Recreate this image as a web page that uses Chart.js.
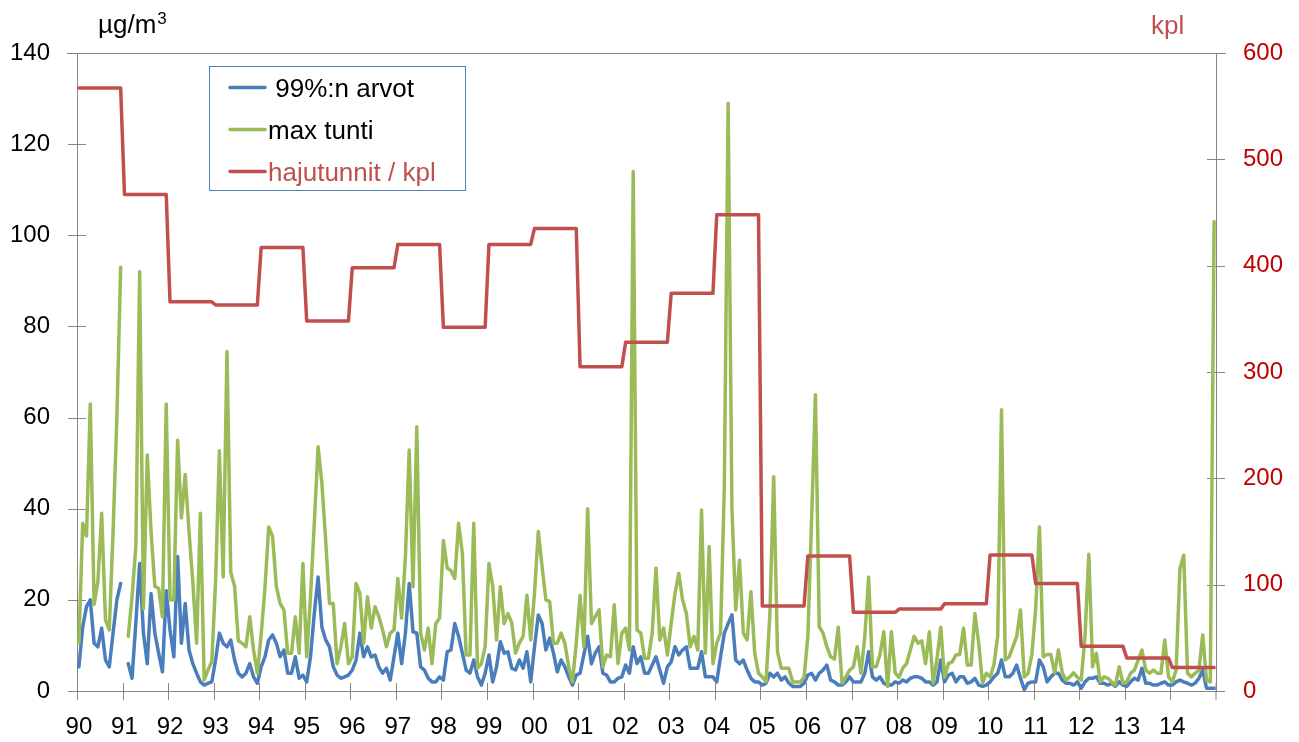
<!DOCTYPE html>
<html>
<head>
<meta charset="utf-8">
<script src="https://cdn.jsdelivr.net/npm/chart.js@4/dist/chart.umd.min.js"></script>
<style>
  html, body { margin: 0; padding: 0; background: #fff; }
  #wrap { width: 1299px; height: 742px; position: relative; }
</style>
</head>
<body>
<div id="wrap"><canvas id="chart"></canvas></div>
<script>
// year tick labels, one per year 1990..2014
const yearLabels = ["90","91","92","93","94","95","96","97","98","99","00","01","02","03","04","05","06","07","08","09","10","11","12","13","14"];

// monthly 99% values (ug/m3), Jan 1990 .. Dec 2014
const p99 = [
  5.3, 14, 18.5, 20, 10.5, 9.7, 13.8, 6.8, 5.3, 12.7, 20, 23.6,
  null, 6, 2.8, 15, 28, 12.7, 6, 21.4, 12.7, 8.3, 4.2, 22,
  13.4, 7.5, 29.5, 10.5, 19.2, 9, 6, 3.9, 2, 1.3, 1.7, 2,
  6.8, 12.7, 10.5, 9.7, 11.2, 6.8, 3.9, 3.1, 3.9, 6, 3.1, 1.7,
  5.3, 7.5, 11.2, 12.3, 10.5, 7.5, 9, 3.9, 3.9, 7.5, 2.8, 3.5,
  2, 7.5, 17, 25, 14, 11.2, 9.7, 5.3, 3.5, 2.8, 3.1, 3.5,
  4.6, 6.8, 12.7, 7.5, 9.7, 7.5, 7.9, 5.3, 3.9, 5, 2.4, 7.5,
  12.7, 6, 12.7, 23.6, 13, 12.7, 5.3, 4.6, 2.8, 2, 2, 3.1,
  2.4, 8.6, 9, 14.8, 12, 8.3, 4.6, 3.9, 6.8, 3.1, 1.3, 3.9,
  7.9, 2, 5.3, 10.8, 8.3, 8.6, 5, 4.6, 6.8, 5, 8.6, 2,
  9.7, 16.7, 14.8, 9, 11.6, 8.3, 4.2, 6.8, 5.3, 3.1, 1.3, 3.5,
  3.9, 8, 12, 6, 8.3, 9.7, 3.9, 3.5, 2, 2, 2.8, 3.1,
  5.7, 3.9, 9.7, 6, 7.5, 3.9, 3.9, 5.7, 7.5, 4.6, 1.7, 5.3,
  6.4, 9.7, 7.9, 9, 9.7, 5, 5, 5, 8.6, 3.1, 3.1, 3.1,
  2, 7.5, 12.7, 14.8, 16.7, 6.8, 6, 6.8, 4.6, 2.8, 2, 2,
  1.3, 1.7, 3.9, 3.1, 3.9, 2.4, 3.1, 1.7, 1, 1, 1, 1.7,
  3.5, 3.9, 2.4, 3.9, 4.6, 5.7, 2.4, 2, 1.3, 1.3, 2, 3.1,
  2, 2, 2, 3.9, 8.6, 3.1, 2.4, 3.1, 1.7, 1.3, 1.3, 2,
  1.7, 2.4, 2, 2.8, 3.1, 3.1, 2.8, 2, 2, 1.3, 2, 6.8,
  2, 3.5, 3.9, 2, 3.1, 3.1, 1.7, 2, 2.8, 1.3, 1, 1.3,
  2, 3.1, 3.9, 6.8, 3.1, 3.1, 3.9, 5.7, 2.8, 0.3, 1.7, 2,
  2, 6.8, 5.3, 2, 3.1, 3.9, 3.9, 2.4, 1.7, 1.7, 1.3, 2,
  0.6, 2, 2.8, 2.8, 3.1, 1.7, 1.7, 1.3, 1.7, 1, 2, 1.3,
  1, 2, 2.8, 2.4, 5, 1.7, 1.7, 1.3, 1.3, 1.7, 2, 1.3,
  1.3, 2, 2.4, 2, 1.7, 1.3, 1.7, 2.8, 4.6, 0.6, 0.6, 0.6
];

// monthly max hourly values (ug/m3)
const maxHour = [
  10.5, 36.8, 34, 63, 19, 24, 39, 15.6, 13.4, 35, 60, 93,
  null, 12, 20.7, 31.7, 92, 18, 51.8, 35, 23, 22.5, 16.3, 63,
  20, 20, 55, 38, 47.5, 35, 24, 10.5, 39, 2.4, 4.6, 6.4,
  24, 52.7, 25, 74.5, 26, 23, 11, 10.5, 9.7, 16.3, 9, 3.9,
  12.3, 22.5, 36, 34, 23, 19.2, 17.8, 8.3, 8.3, 16.3, 8.3, 28,
  7.5, 20.7, 36.8, 53.6, 45.6, 33, 19.2, 19.2, 6, 9.7, 14.8, 6,
  7.5, 23.6, 21.4, 10.5, 20.7, 13.8, 18.5, 16.3, 13.4, 9.7, 12.7, 13.4,
  24.7, 16, 29.5, 52.9, 22.9, 58, 12.7, 9, 13.8, 6, 14.8, 16,
  33, 27, 26.4, 24.7, 36.8, 30.2, 7.9, 7.9, 36.8, 5, 6, 9.7,
  28, 22.9, 11.2, 22.9, 14.8, 17, 15, 8.3, 10.5, 12, 21, 11.2,
  21.4, 35, 27.3, 20, 19.6, 10.5, 10.5, 12.7, 10.5, 5.3, 2, 10.5,
  21, 9.7, 40, 14.8, 16.3, 17.8, 5.3, 7.9, 7.5, 18.9, 6, 12.7,
  13.8, 9, 114, 13.4, 12.7, 7.2, 7.2, 12.7, 27, 11.2, 13.8, 7.9,
  14.8, 21.4, 25.8, 20, 17, 9.7, 12, 9, 39.7, 8.3, 31.7, 6,
  10.5, 12.7, 45, 129, 40, 17.8, 28.7, 12.7, 11.2, 21.8, 8.3, 3.9,
  3.1, 2, 17, 47, 8.6, 5, 5, 5, 2, 2, 2, 3,
  12, 38, 65, 14.1, 12.7, 9.7, 7.5, 7, 14, 1.7, 3.1, 4.6,
  5.3, 9.7, 3.9, 12, 25, 5.3, 5.3, 8, 13, 1, 13, 4,
  3, 5, 6, 9, 12, 10.5, 11, 6, 13, 1.7, 7, 14,
  3, 6, 6.4, 7.9, 8, 13.8, 5.7, 5.7, 17, 10.5, 1.7, 3.9,
  3.1, 5.7, 12, 61.7, 6.8, 7.5, 9.7, 12, 17.8, 3.1, 3.9, 8,
  18, 36, 7.5, 8, 8, 4, 9, 4, 2.4, 3.1, 4, 3,
  2.4, 12, 30, 5.3, 8.3, 2, 3.1, 2.8, 2, 1.3, 5.3, 1.7,
  2, 3.9, 4.6, 6.8, 9, 4.6, 3.9, 4.6, 3.9, 3.9, 11.2, 3.1,
  2, 4.6, 26.9, 29.8, 3.9, 3.1, 3.9, 4.6, 12.3, 2.4, 2, 103
];

// odour hours per year (kpl), one value per year
const odourHours = [567, 467, 366, 363, 417, 348, 398, 420, 342, 420, 435, 305, 328, 374, 448, 80, 127, 74, 77, 82, 128, 101, 42, 31, 22];

const BLUE = "#4A7EBB", GREEN = "#9BBB59", RED = "#C0504D", AXIS = "#868686";
const FONT = "'Liberation Sans', Arial, sans-serif";
const LW = 3.5;

// one category per month
const monthLabels = [];
const odourMonthly = [];
yearLabels.forEach((y, k) => {
  for (let m = 0; m < 12; m++) {
    monthLabels.push(y + "-" + (m + 1));
    odourMonthly.push(odourHours[k]);
  }
});

const legendItems = [
  { text: " 99%:n arvot", color: BLUE, textColor: "#000" },
  { text: "max tunti", color: GREEN, textColor: "#000" },
  { text: "hajutunnit / kpl", color: RED, textColor: RED },
];

const decor = {
  id: "decor",
  beforeDatasetsDraw(chart) {
    const { ctx, chartArea: a, scales } = chart;
    ctx.save();
    ctx.strokeStyle = AXIS;
    ctx.lineWidth = 1;
    ctx.beginPath();
    ctx.moveTo(a.left - 10, Math.round(a.top) + 0.5);
    ctx.lineTo(a.right + 10, Math.round(a.top) + 0.5);
    scales.y.ticks.forEach((t, i) => {
      const py = Math.round(scales.y.getPixelForTick(i)) + 0.5;
      ctx.moveTo(a.left - 9, py); ctx.lineTo(a.left + 9, py);
    });
    scales.y2.ticks.forEach((t, i) => {
      const py = Math.round(scales.y2.getPixelForTick(i)) + 0.5;
      ctx.moveTo(a.right - 9, py); ctx.lineTo(a.right + 9, py);
    });
    const x = scales.x;
    const half = (x.getPixelForValue(1) - x.getPixelForValue(0)) / 2;
    for (let k = 0; k <= yearLabels.length; k++) {
      const px = k < yearLabels.length ? Math.round(x.getPixelForValue(k * 12) - half) + 0.5 : a.right;
      ctx.moveTo(px, a.bottom - 8); ctx.lineTo(px, a.bottom + 9);
    }
    ctx.stroke();
    ctx.restore();
  },
  afterDraw(chart) {
    const { ctx } = chart;
    ctx.save();
    // axis titles
    ctx.font = "26px " + FONT;
    ctx.textBaseline = "alphabetic";
    ctx.fillStyle = "#000";
    ctx.textAlign = "left";
    ctx.fillText("\u00B5g/m", 98, 33);
    const w = ctx.measureText("\u00B5g/m").width;
    ctx.font = "17px " + FONT;
    ctx.fillText("3", 98 + w + 1, 24);
    ctx.font = "26px " + FONT;
    ctx.fillStyle = RED;
    ctx.fillText("kpl", 1151, 34);

    // legend box
    const bx = 209.5, by = 66.5, bw = 256, bh = 124;
    ctx.fillStyle = "#fff";
    ctx.fillRect(bx, by, bw, bh);
    ctx.strokeStyle = "#4F81BD";
    ctx.lineWidth = 1;
    ctx.strokeRect(bx, by, bw, bh);
    legendItems.forEach((it, i) => {
      const ly = 87.5 + i * 42;
      ctx.strokeStyle = it.color;
      ctx.lineWidth = LW;
      ctx.lineCap = "round";
      ctx.beginPath();
      ctx.moveTo(230, ly); ctx.lineTo(265, ly);
      ctx.stroke();
      ctx.fillStyle = it.textColor;
      ctx.font = "26px " + FONT;
      ctx.fillText(it.text, 268, ly + 9.5);
    });
    ctx.restore();
  }
};

new Chart(document.getElementById("chart"), {
  type: "line",
  data: {
    labels: monthLabels,
    datasets: [
      { label: "99%:n arvot", data: p99, borderColor: BLUE, borderWidth: LW, yAxisID: "y", order: 3 },
      { label: "max tunti", data: maxHour, borderColor: GREEN, borderWidth: LW, yAxisID: "y", order: 2 },
      { label: "hajutunnit / kpl", data: odourMonthly, borderColor: RED, borderWidth: LW, yAxisID: "y2", order: 1 },
    ],
  },
  options: {
    responsive: true,
    maintainAspectRatio: false,
    animation: false,
    spanGaps: false,
    elements: {
      point: { radius: 0, hoverRadius: 0 },
      line: { tension: 0, borderJoinStyle: "round", borderCapStyle: "round" },
    },
    layout: { padding: { top: 53, left: 0, right: 0, bottom: 0 } },
    plugins: { legend: { display: false }, tooltip: { enabled: false } },
    scales: {
      x: {
        type: "category",
        offset: true,
        grid: { display: false, drawTicks: false, tickLength: 0 },
        border: { display: true, color: AXIS, width: 1 },
        ticks: {
          autoSkip: false,
          maxRotation: 0,
          padding: 22,
          color: "#000",
          font: { family: FONT, size: 24 },
          callback: (v, i) => (i % 12 === 0 ? yearLabels[i / 12] : ""),
        },
        afterFit: (s) => { s.height = 51; },
      },
      y: {
        position: "left",
        min: 0,
        max: 140,
        grid: { display: false, drawTicks: false, tickLength: 0 },
        border: { display: true, color: AXIS, width: 1 },
        ticks: { stepSize: 20, padding: 27, color: "#000", font: { family: FONT, size: 24 } },
        afterFit: (s) => { s.width = 77; },
      },
      y2: {
        position: "right",
        min: 0,
        max: 600,
        grid: { display: false, drawTicks: false, tickLength: 0 },
        border: { display: true, color: AXIS, width: 1 },
        ticks: { stepSize: 100, padding: 27, color: "#C00000", font: { family: FONT, size: 24 } },
        afterFit: (s) => { s.width = 83; },
      },
    },
  },
  plugins: [decor],
});
</script>
</body>
</html>
